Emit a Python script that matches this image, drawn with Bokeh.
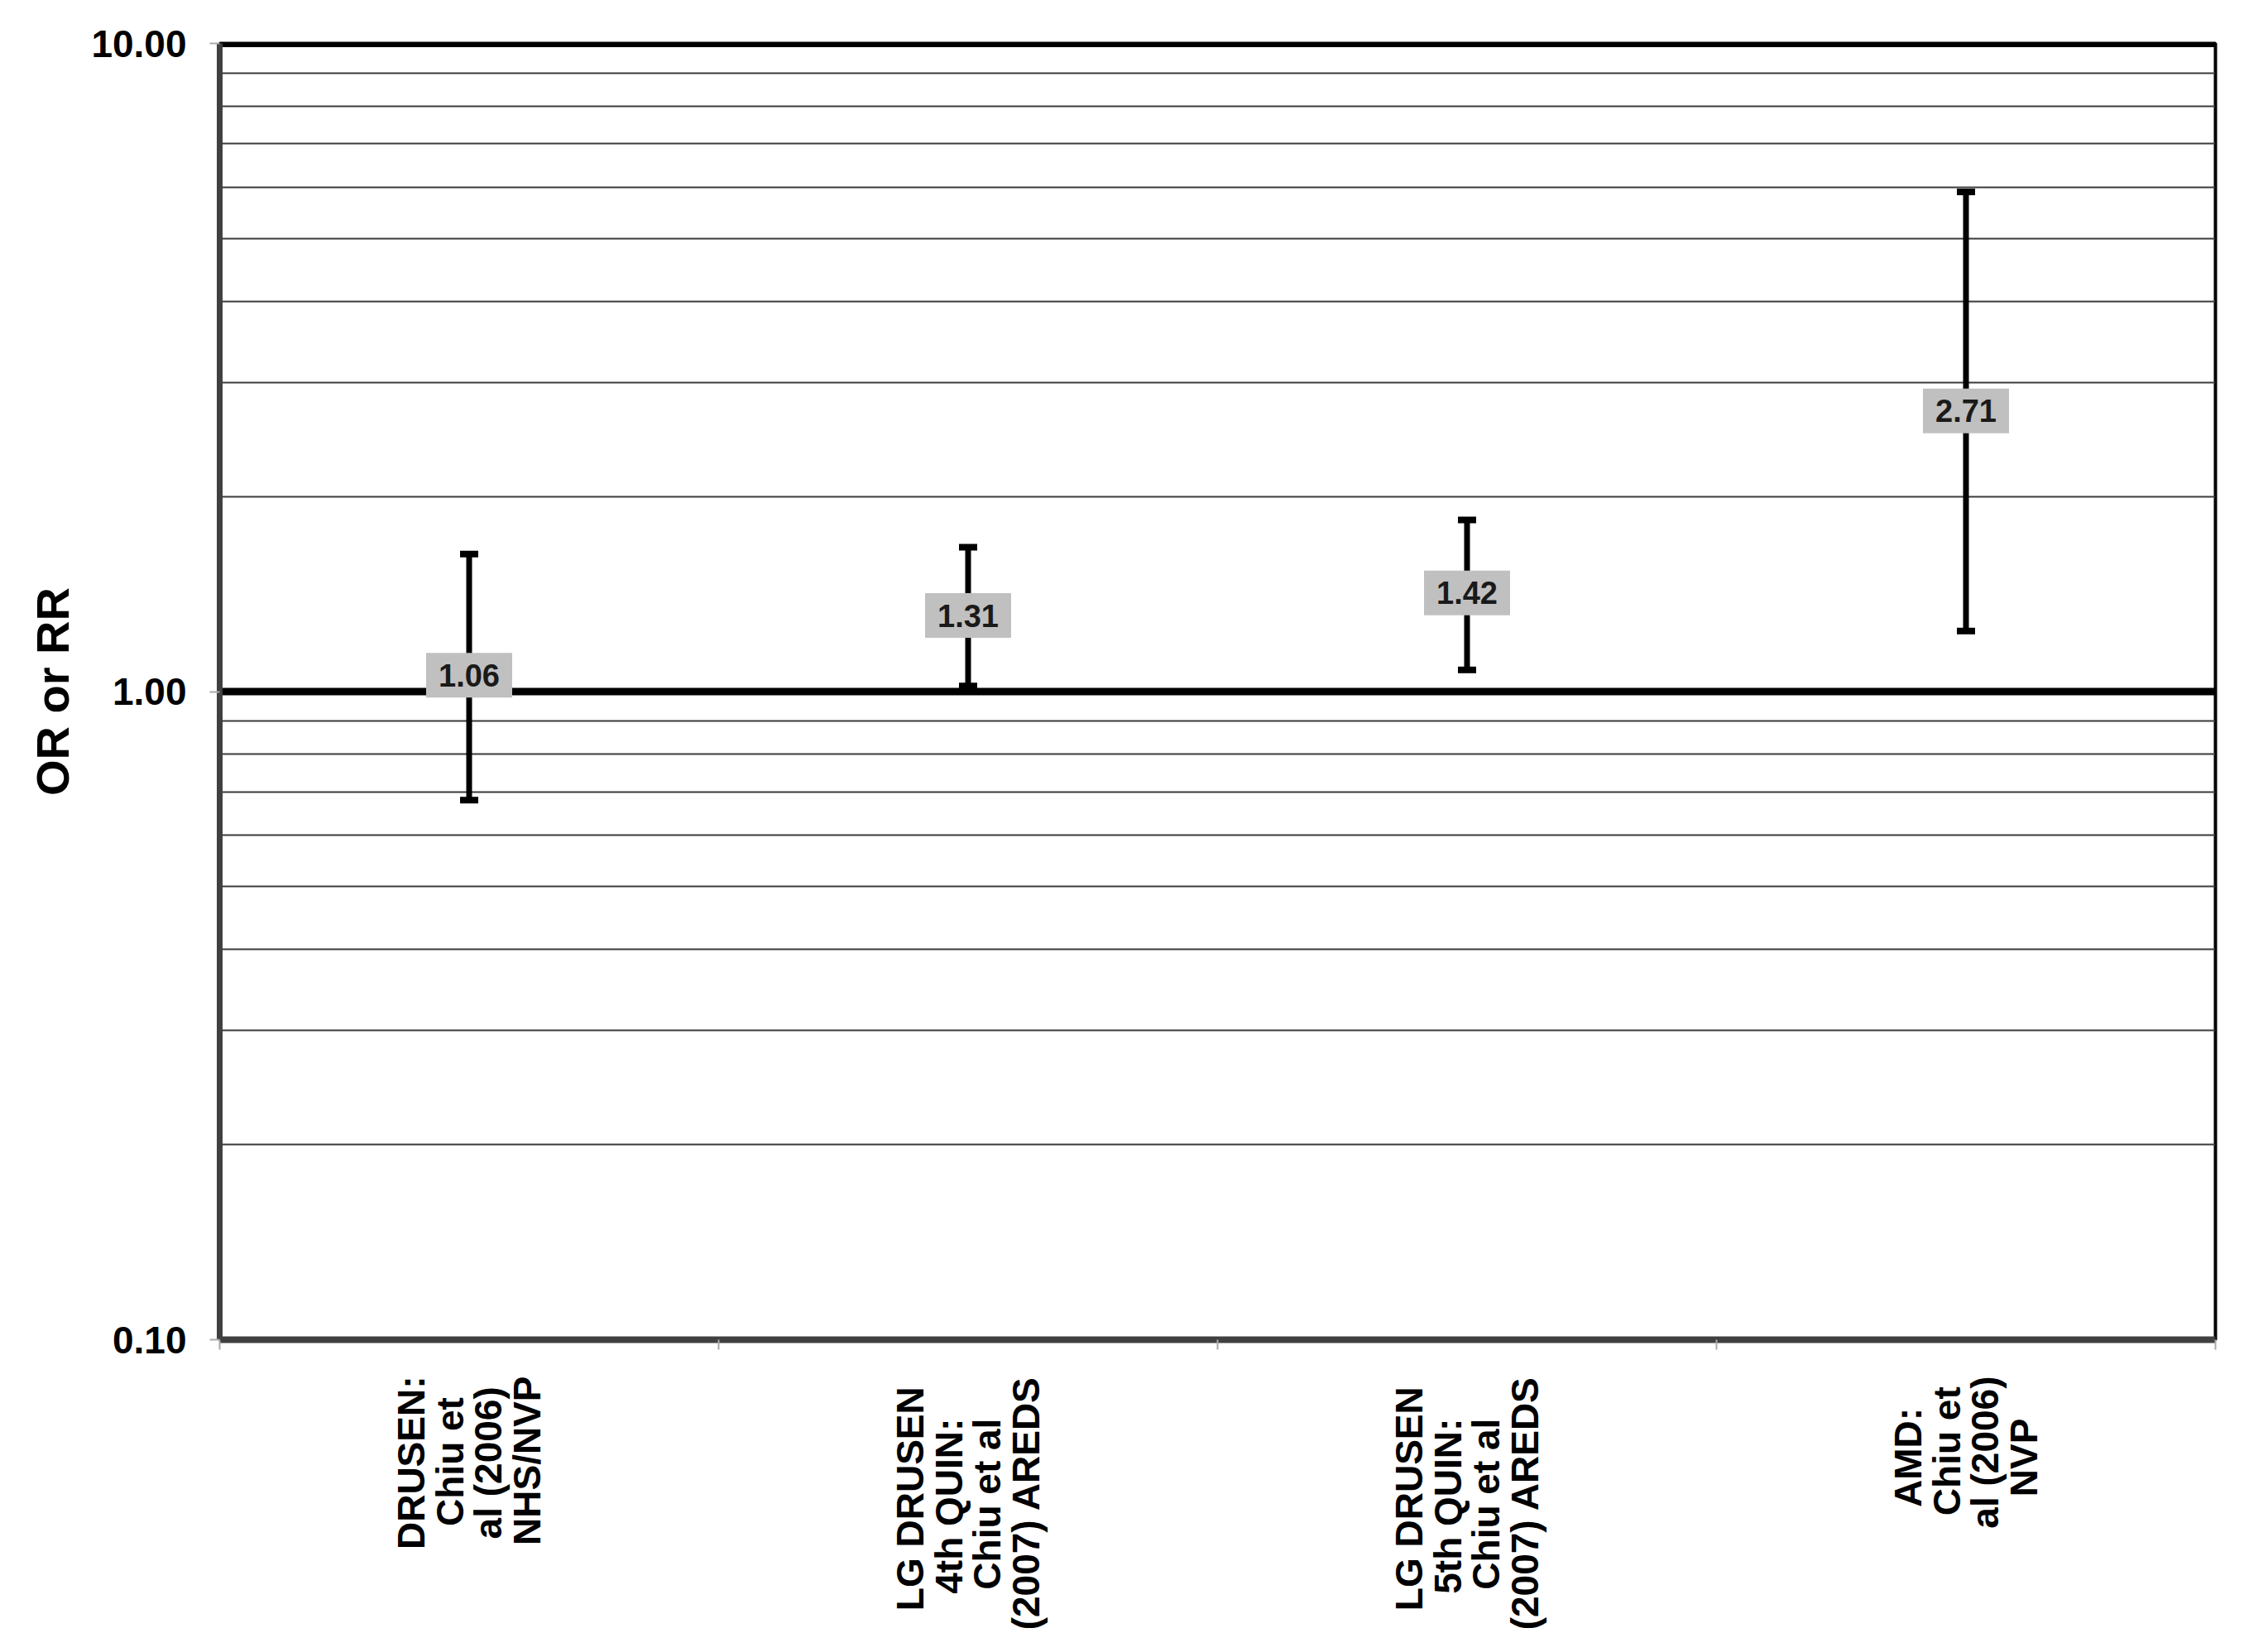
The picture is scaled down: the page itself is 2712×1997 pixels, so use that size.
import math
from bokeh.plotting import figure
from bokeh.models import FixedTicker, Span, Range1d
from bokeh.embed import file_html
from bokeh.resources import INLINE
from bokeh.core.properties import value

# ---- data ----
categories = [
    "DRUSEN:\nChiu et\nal (2006)\nNHS/NVP",
    "LG DRUSEN\n4th QUIN:\nChiu et al\n(2007) AREDS",
    "LG DRUSEN\n5th QUIN:\nChiu et al\n(2007) AREDS",
    "AMD:\nChiu et\nal (2006)\nNVP",
]
estimates = [1.06, 1.31, 1.42, 2.71]
lower = [0.68, 1.02, 1.08, 1.24]
upper = [1.63, 1.67, 1.84, 5.90]
y_ticks = [0.1, 1.0, 10.0]
y_tick_labels = ["0.10", "1.00", "10.00"]
minor_grid = [0.2, 0.3, 0.4, 0.5, 0.6, 0.7, 0.8, 0.9, 2, 3, 4, 5, 6, 7, 8, 9]

FONT = "Liberation Sans"
xs = [i + 0.5 for i in range(len(categories))]
bounds = [float(i) for i in range(len(categories) + 1)]
est_labels = ["%.2f" % v for v in estimates]

# Arial/Liberation Sans Bold advance widths (1/1000 em), used to centre the
# lines of the rotated multi-line category labels (axis labels are end-aligned).
_W = {"A": 722, "C": 722, "D": 722, "E": 667, "G": 778, "H": 722, "I": 278,
      "L": 611, "M": 833, "N": 722, "P": 667, "Q": 778, "R": 722, "S": 667,
      "U": 722, "V": 667, "a": 556, "e": 556, "h": 611, "i": 278, "l": 278,
      "t": 333, "u": 611, "(": 333, ")": 333, "/": 278, ":": 333, " ": 278}


def _width(s):
    return sum(_W.get(c, 556) for c in s)


def centre_lines(label):
    lines = label.split("\n")
    m = max(_width(l) for l in lines)
    return "\n".join(l + "\u00a0" * int(round((m - _width(l)) / 2 / 278)) for l in lines)


p = figure(width=2696, height=1981, y_axis_type="log",
           x_range=Range1d(0, len(categories)), y_range=Range1d(0.1, 10),
           output_backend="svg", toolbar_location=None,
           min_border_left=265, min_border_right=19,
           min_border_top=52, min_border_bottom=362)
p.background_fill_color = "white"
p.border_fill_color = "white"
p.outline_line_color = "black"
p.outline_line_width = 4

# grid
p.xgrid.visible = False
p.ygrid.ticker = FixedTicker(ticks=minor_grid)
p.ygrid.grid_line_color = "#3a3a3a"
p.ygrid.grid_line_width = 2

for loc in [1.0, 10.0]:
    p.add_layout(Span(location=loc, dimension="width", line_color="black",
                      line_width=9, level="underlay"))

# y axis
yax = p.yaxis[0]
yax.ticker = FixedTicker(ticks=y_ticks)
yax.major_label_overrides = dict(zip(y_ticks, y_tick_labels))
yax.major_label_text_font = FONT
yax.major_label_text_font_style = "bold"
yax.major_label_text_font_size = "46px"
yax.major_label_text_color = "black"
yax.major_tick_out = 12
yax.major_tick_in = 0
yax.major_tick_line_color = "#aaaaaa"
yax.major_tick_line_width = 2
yax.minor_tick_line_color = None
yax.major_label_standoff = 28
yax.axis_line_color = "#404040"
yax.axis_line_width = 7
yax.axis_label = "OR or RR"
yax.axis_label_text_font = FONT
yax.axis_label_text_font_style = "bold"
yax.axis_label_text_font_size = "56px"
yax.axis_label_text_color = "black"
yax.axis_label_standoff = 12

# x axis: labels at category centres, ticks at category boundaries
xax = p.xaxis[0]
xax.ticker = FixedTicker(ticks=xs, minor_ticks=bounds)
xax.major_label_overrides = {x: centre_lines(c) for x, c in zip(xs, categories)}
xax.major_label_orientation = math.pi / 2
xax.major_label_text_font = FONT
xax.major_label_text_font_style = "bold"
xax.major_label_text_font_size = "46px"
xax.major_label_text_color = "black"
xax.major_label_text_line_height = 0.9
xax.major_tick_out = 0
xax.major_tick_in = 0
xax.major_tick_line_color = None
xax.minor_tick_out = 12
xax.minor_tick_in = 0
xax.minor_tick_line_color = "#aaaaaa"
xax.minor_tick_line_width = 2
xax.major_label_standoff = 32
xax.axis_line_color = "#404040"
xax.axis_line_width = 8

# error bars
p.segment(x0=xs, y0=lower, x1=xs, y1=upper, line_color="black", line_width=7)
p.rect(x=xs, y=upper, width=22, height=8, width_units="screen", height_units="screen",
       fill_color="black", line_color=None)
p.rect(x=xs, y=lower, width=22, height=8, width_units="screen", height_units="screen",
       fill_color="black", line_color=None)

# value labels
p.rect(x=xs, y=estimates, width=104, height=54, width_units="screen", height_units="screen",
       fill_color="#c0c0c0", line_color=None)
p.text(x=xs, y=estimates, text=est_labels, text_align="center", text_baseline="middle",
       text_font=value(FONT), text_font_style="bold", text_font_size="38px",
       text_color="#1a1a1a")

open("out.html", "w").write(file_html(p, INLINE))
